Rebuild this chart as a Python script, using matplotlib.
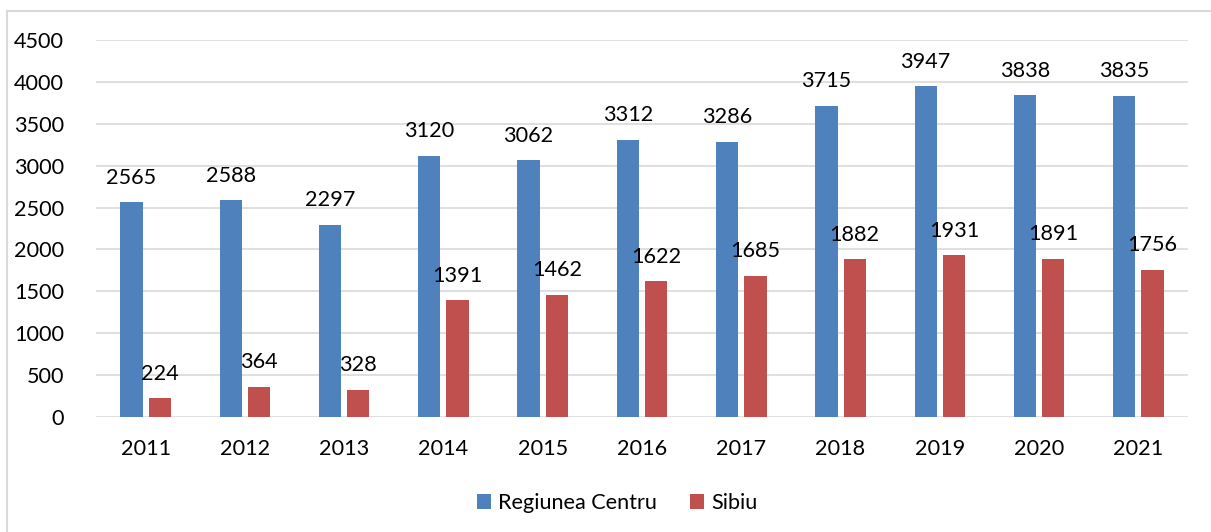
import matplotlib.pyplot as plt
import numpy as np
from matplotlib.patches import Rectangle

YEARS = ["2011", "2012", "2013", "2014", "2015", "2016", "2017", "2018", "2019", "2020", "2021"]
CENTRU = [2565, 2588, 2297, 3120, 3062, 3312, 3286, 3715, 3947, 3838, 3835]
SIBIU = [224, 364, 328, 1391, 1462, 1622, 1685, 1882, 1931, 1891, 1756]
SERIES_NAMES = ["Regiunea Centru", "Sibiu"]

BLUE = "#4F81BD"
RED = "#C0504D"
GRID = "#D9D9D9"
BAR_W = 0.225
BAR_GAP = 0.06
FONT = 15.6

plt.rcParams["font.family"] = ["Lato", "DejaVu Sans"]

fig = plt.figure(figsize=(12.11, 5.32), dpi=100)
W, H = 1211, 532
ax = fig.add_axes([96 / W, 1 - 417 / H, (1188 - 96) / W, (417 - 40) / H])

x = np.arange(len(YEARS))
off = (BAR_W + BAR_GAP) / 2
b1 = ax.bar(x - off, CENTRU, BAR_W, color=BLUE, label=SERIES_NAMES[0], zorder=3)
b2 = ax.bar(x + off, SIBIU, BAR_W, color=RED, label=SERIES_NAMES[1], zorder=3)
for bars, vals in ((b1, CENTRU), (b2, SIBIU)):
    for rect, v in zip(bars, vals):
        ax.annotate(str(v), (rect.get_x() + rect.get_width() / 2, v),
                    xytext=(0, 10.5), textcoords="offset points",
                    ha="center", va="bottom", fontsize=FONT, color="black")

ax.set_xlim(-0.5, len(YEARS) - 0.5)
ax.set_ylim(0, 4500)
ax.set_yticks(np.arange(0, 4501, 500))
ax.set_xticks(x, YEARS)
ax.tick_params(axis="both", length=0, labelsize=FONT, colors="black")
ax.tick_params(axis="y", pad=23)
ax.tick_params(axis="x", pad=16)
ax.grid(axis="y", color=GRID, linewidth=1.2, zorder=0)
for s in ax.spines.values():
    s.set_visible(False)

fig.legend(handles=[b1, b2], labels=SERIES_NAMES, loc="center",
           bbox_to_anchor=(617 / W, 1 - 503 / H), ncols=2, frameon=False,
           fontsize=FONT, handlelength=0.65, handleheight=0.65,
           handletextpad=0.35, columnspacing=1.5)

# chart frame, open to the right and bottom
fig.patches.append(Rectangle((7 / W, -0.1), 1.2, 1 - 11 / H + 0.1,
                             transform=fig.transFigure, fill=False,
                             edgecolor=GRID, linewidth=1.5))

fig.savefig("out.png", dpi=100)
